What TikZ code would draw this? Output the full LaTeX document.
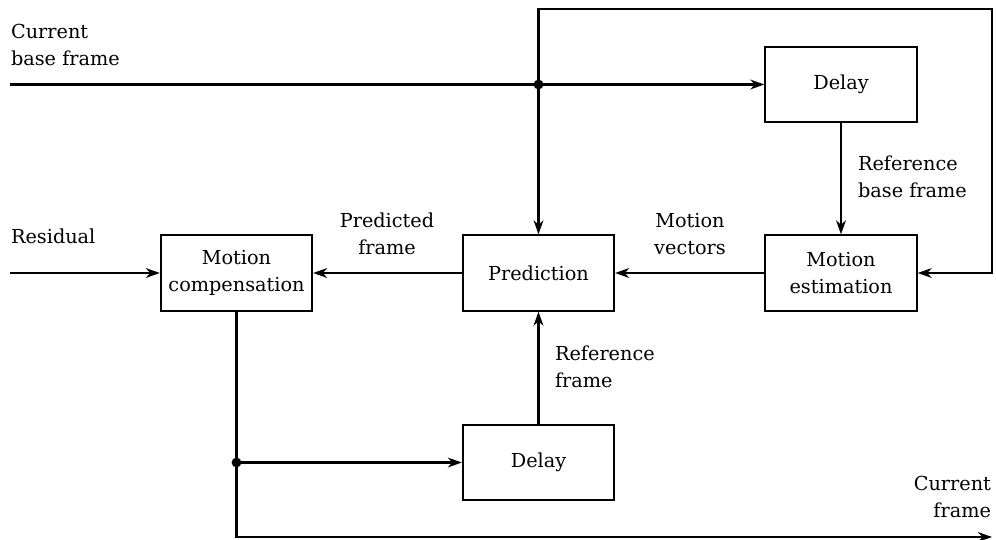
\documentclass[tikz,border=0pt]{standalone}
\usepackage{fontspec}
\setmainfont{DejaVu Serif}
\usetikzlibrary{arrows.meta, positioning, calc}

\begin{document}
\begin{tikzpicture}[>={Stealth[length=10pt,width=7pt]}, x=0.025cm, y=-0.025cm, line width=1.5pt,
        font=\fontsize{13.7}{19}\selectfont,
        block/.style={draw, minimum width=3.78cm, minimum height=1.88cm, align=center, inner sep=2pt},
        lbl/.style={inner sep=0pt, align=left}]
        \useasboundingbox (0,0) rectangle (996,540);
        % boxes
        \node[block] (dlytop) at (841,84.5) {Delay};
        \node[block] (motest) at (841,273) {Motion\\estimation};
        \node[block] (pred) at (538.5,273) {Prediction};
        \node[block] (motcomp) at (236.5,273) {Motion\\compensation};
        \node[block] (dlybot) at (538.5,462.5) {Delay};
        % helper points
        \coordinate (inbase) at (10,84.5);
        \coordinate (inres) at (10,273);
        \coordinate (split) at (pred.north |- dlytop.west);
        \coordinate (loopa) at (pred.north |- 0,9);
        \coordinate (loopb) at (992,9);
        \coordinate (tap) at (motcomp.south |- dlybot.west);
        \coordinate (outend) at (992,537);
        % connectors
        \draw[->] (inbase) -- (dlytop.west);
        \draw[<->] (pred.north) -- (loopa) -- (loopb) |- (motest.east);
        \draw[->] (dlytop) -- (motest);
        \draw[->] (motest) -- (pred);
        \draw[->] (pred) -- (motcomp);
        \draw[->] (inres) -- (motcomp);
        \draw[->] (dlybot) -- (pred);
        \draw[->] (motcomp.south) |- (outend);
        \draw[->] (tap) -- (dlybot.west);
        \fill (split) circle[radius=3.5pt];
        \fill (tap) circle[radius=3.5pt];
        % labels
        \node[lbl, anchor=base west] (lblcbf) at (10,65) {Current\\base frame};
        \node[lbl, anchor=base west] (lblres) at (10,243) {Residual};
        \node[lbl, anchor=base, align=center] (lblpf) at (387,254) {Predicted\\frame};
        \node[lbl, anchor=base, align=center] (lblmv) at (690,254) {Motion\\vectors};
        \node[lbl, anchor=base west] (lblrbf) at (857,197) {Reference\\base frame};
        \node[lbl, anchor=base west] (lblrf) at (554,387) {Reference\\frame};
        \node[lbl, anchor=base east, align=right] (lblcf) at (992,517) {Current\\frame};
\end{tikzpicture}
\end{document}
